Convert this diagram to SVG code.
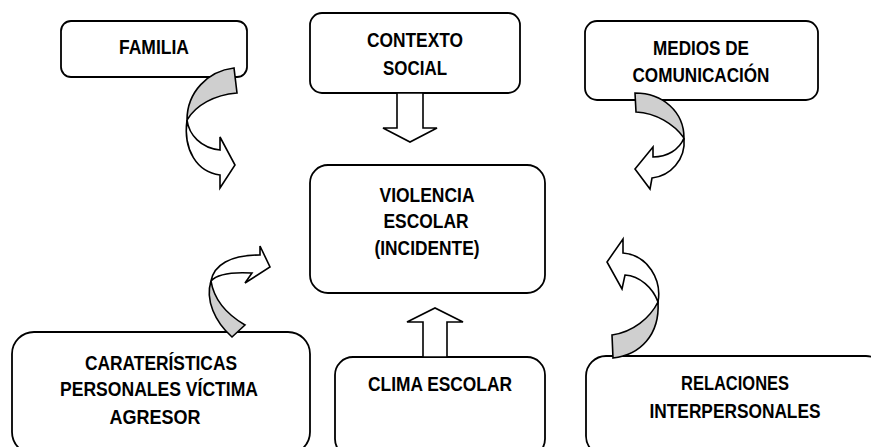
<svg xmlns="http://www.w3.org/2000/svg" width="871" height="447" viewBox="0 0 871 447">
<style>
.box{fill:#fff;stroke:#000;stroke-width:1.8}
.t{font-family:"Liberation Sans",Arial,sans-serif;font-weight:bold;font-size:20.5px;fill:#000;text-anchor:middle}
.blk{fill:#fff;stroke:#000;stroke-width:1.6;stroke-linejoin:miter}
.gry{fill:#cfcfcf;stroke:#000;stroke-width:1.6;stroke-linejoin:miter}
</style>
<rect width="871" height="447" fill="#fff"/>
<g id="familia">
<rect class="box" x="61" y="21" width="186" height="56" rx="10"/>
<text class="t" x="154" y="54" textLength="70" lengthAdjust="spacingAndGlyphs">FAMILIA</text>
</g>
<g id="contexto">
<rect class="box" x="310" y="13" width="210" height="80" rx="12"/>
<text class="t" x="415" y="47" textLength="96" lengthAdjust="spacingAndGlyphs">CONTEXTO</text>
<text class="t" x="415" y="75" textLength="64" lengthAdjust="spacingAndGlyphs">SOCIAL</text>
</g>
<g id="medios">
<rect class="box" x="585" y="21" width="233" height="79" rx="12"/>
<text class="t" x="701" y="55" textLength="96" lengthAdjust="spacingAndGlyphs">MEDIOS DE</text>
<text class="t" x="701" y="82" textLength="137" lengthAdjust="spacingAndGlyphs">COMUNICACIÓN</text>
</g>
<g id="violencia">
<rect class="box" x="310" y="165" width="235" height="128" rx="18"/>
<text class="t" x="427" y="202" textLength="95" lengthAdjust="spacingAndGlyphs">VIOLENCIA</text>
<text class="t" x="426" y="228" textLength="85" lengthAdjust="spacingAndGlyphs">ESCOLAR</text>
<text class="t" x="427" y="255" textLength="105" lengthAdjust="spacingAndGlyphs">(INCIDENTE)</text>
</g>
<g id="caracteristicas">
<rect class="box" x="12" y="332" width="298" height="122" rx="22"/>
<text class="t" x="161" y="370" textLength="152" lengthAdjust="spacingAndGlyphs">CARATERÍSTICAS</text>
<text class="t" x="159" y="396" textLength="198" lengthAdjust="spacingAndGlyphs">PERSONALES VÍCTIMA</text>
<text class="t" x="155" y="424" textLength="91" lengthAdjust="spacingAndGlyphs">AGRESOR</text>
</g>
<g id="clima">
<rect class="box" x="335" y="357" width="210" height="100" rx="18"/>
<text class="t" x="440" y="391" textLength="144" lengthAdjust="spacingAndGlyphs">CLIMA ESCOLAR</text>
</g>
<g id="relaciones">
<rect class="box" x="586" y="356" width="300" height="100" rx="20"/>
<text class="t" x="735" y="390" textLength="108" lengthAdjust="spacingAndGlyphs">RELACIONES</text>
<text class="t" x="735" y="418" textLength="171" lengthAdjust="spacingAndGlyphs">INTERPERSONALES</text>
</g>
<g id="connectors">
<polygon class="blk" points="397,93 423,93 423,128 437,128 410,142 383,128 397,128"/>
<polygon class="blk" points="423,357 447,357 447,322 463,322 435,308 407,322 423,322"/>
<path class="gry" d="M234,68 C208,71 187,92 187,120 C196,105 214,95 237,93 Z"/>
<path class="blk" d="M187,120 C189,135 201,148 220,150 L220,137 L235,165 L220,188 L220,175 C197,172 183,150 187,120 Z"/>
<path class="gry" d="M635,93 C663,93 684,112 684,138 C674,124 656,113 636,112 Z"/>
<path class="blk" d="M684,138 C679,150 667,157 653,157 L653,147 L635,169 L650,189 L652,178 C670,176 686,160 684,138 Z"/>
<path class="gry" d="M232,337 C215,322 205,300 211,281 C214,300 228,315 245,325 Z"/>
<path class="blk" d="M211,281 C214,265 230,255 260,255 L260,246 L270,267 L245,283 L252,273 C235,272 218,273 211,281 Z"/>
<path class="gry" d="M612,335 L613,358 C640,355 660,335 658,302 C650,318 633,332 612,335 Z"/>
<path class="blk" d="M658,302 C662,280 648,255 623,253 L623,239 L607,262 L622,289 L625,275 C640,276 653,288 658,302 Z"/>
</g>
</svg>
